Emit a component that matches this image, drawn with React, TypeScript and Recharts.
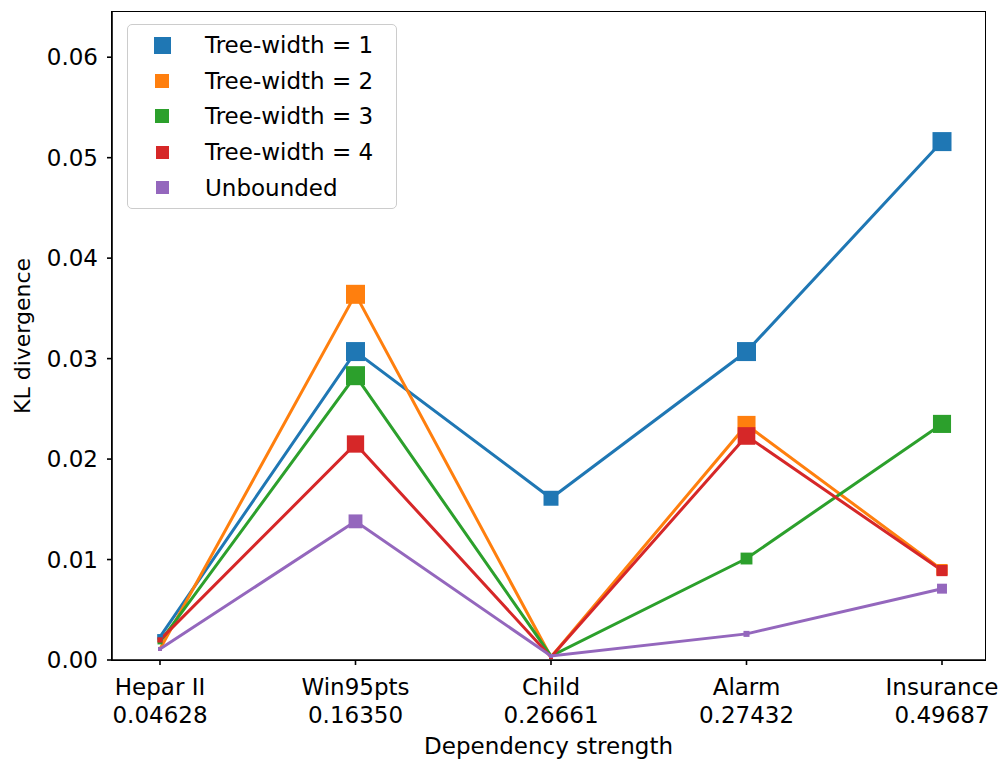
import { LineChart, Line, XAxis, YAxis } from 'recharts'

const categories = ['Hepar II', 'Win95pts', 'Child', 'Alarm', 'Insurance']
const strengths = ['0.04628', '0.16350', '0.26661', '0.27432', '0.49687']

const treeWidth1 = [0.0023, 0.0307, 0.0161, 0.0307, 0.0516]
const treeWidth2 = [0.0011, 0.0364, 0.0003, 0.0234, 0.009]
const treeWidth3 = [0.0018, 0.0283, 0.0004, 0.0101, 0.0235]
const treeWidth4 = [0.002, 0.0215, 0.0003, 0.0223, 0.0089]
const unbounded = [0.0011, 0.0138, 0.0004, 0.0026, 0.0071]

const yTicks = [0, 0.01, 0.02, 0.03, 0.04, 0.05, 0.06]

const series = [
  { key: 'tw1', name: 'Tree-width = 1', values: treeWidth1, color: '#1f77b4', legendSize: 17 },
  { key: 'tw2', name: 'Tree-width = 2', values: treeWidth2, color: '#ff7f0e', legendSize: 14 },
  { key: 'tw3', name: 'Tree-width = 3', values: treeWidth3, color: '#2ca02c', legendSize: 14 },
  { key: 'tw4', name: 'Tree-width = 4', values: treeWidth4, color: '#d62728', legendSize: 13 },
  { key: 'unb', name: 'Unbounded', values: unbounded, color: '#9467bd', legendSize: 13 },
]

const data = categories.map((name, i) => {
  const row: Record<string, string | number> = { name }
  series.forEach((s) => { row[s.key] = s.values[i] })
  return row
})

const FONT = 'DejaVu Sans'

// marker side grows with the value, clamped like the original
const markerSize = (v: number) => Math.max(4, Math.min(19, Math.sqrt(v) * 118))

const squareDot = (color: string, key: string) => (props: any) => {
  const { cx, cy, index, payload } = props
  const s = markerSize(Number(payload[key]))
  return <rect key={`${key}-${index}`} x={cx - s / 2} y={cy - s / 2} width={s} height={s} fill={color} />
}

const XTick = (props: any) => {
  const { x, y, payload, index } = props
  return (
    <text x={x} y={y} textAnchor="middle" fontFamily={FONT} fontSize={23} fill="#000">
      <tspan x={x} dy="0.71em">{payload.value}</tspan>
      <tspan x={x} dy="1.22em">{strengths[index]}</tspan>
    </text>
  )
}

export default function App() {
  return (
    <div style={{ position: 'absolute', left: 0, top: 0, width: 1003, height: 759, background: '#fff' }}>
      <LineChart width={1003} height={759} data={data} margin={{ top: 12, right: 18, left: 0, bottom: 0 }}>
        <XAxis
          dataKey="name"
          height={99}
          padding={{ left: 48, right: 43 }}
          axisLine={{ stroke: '#000', strokeWidth: 1.6 }}
          tickLine={{ stroke: '#000', strokeWidth: 1.6 }}
          tickSize={5}
          tickMargin={14}
          tick={<XTick />}
          interval={0}
          label={{ value: 'Dependency strength', position: 'insideBottom', offset: 5, fontFamily: FONT, fontSize: 23, fill: '#000' }}
        />
        <YAxis
          width={112}
          domain={[0, 0.0645]}
          ticks={yTicks}
          tickFormatter={(v: number) => v.toFixed(2)}
          axisLine={{ stroke: '#000', strokeWidth: 1.6 }}
          tickLine={{ stroke: '#000', strokeWidth: 1.6 }}
          tickSize={5}
          tickMargin={9}
          tick={{ fontFamily: FONT, fontSize: 23, fill: '#000' }}
          label={{
            content: (p: any) => {
              const vb = p.viewBox || { y: 12, height: 648 }
              const cy = vb.y + vb.height / 2
              return (
                <text x={22} y={cy} transform={`rotate(-90 22 ${cy})`} textAnchor="middle" dominantBaseline="central" fontFamily={FONT} fontSize={22} fill="#000">
                  KL divergence
                </text>
              )
            },
          }}
        />
        {series.map((s) => (
          <Line
            key={s.key}
            dataKey={s.key}
            name={s.name}
            stroke={s.color}
            strokeWidth={3}
            dot={squareDot(s.color, s.key)}
            activeDot={false}
            isAnimationActive={false}
          />
        ))}
      </LineChart>
      {/* plot frame (top and right spines) */}
      <div style={{ position: 'absolute', left: 111, top: 11, width: 873, height: 648, border: '1.6px solid #000', pointerEvents: 'none' }} />
      <div
        style={{
          position: 'absolute', left: 127, top: 24, width: 268, height: 183,
          border: '1px solid #cccccc', borderRadius: 5, background: 'rgba(255,255,255,0.8)',
          fontFamily: FONT, fontSize: 23, color: '#000',
        }}
      >
        {series.map((s, i) => (
          <div key={s.key} style={{ position: 'absolute', left: 0, top: 2 + i * 35.7, height: 36, width: 268 }}>
            <div style={{ position: 'absolute', left: 34 - s.legendSize / 2, top: 18 - s.legendSize / 2, width: s.legendSize, height: s.legendSize, background: s.color }} />
            <div style={{ position: 'absolute', left: 77, top: 3, lineHeight: '30px', whiteSpace: 'nowrap' }}>{s.name}</div>
          </div>
        ))}
      </div>
    </div>
  )
}
